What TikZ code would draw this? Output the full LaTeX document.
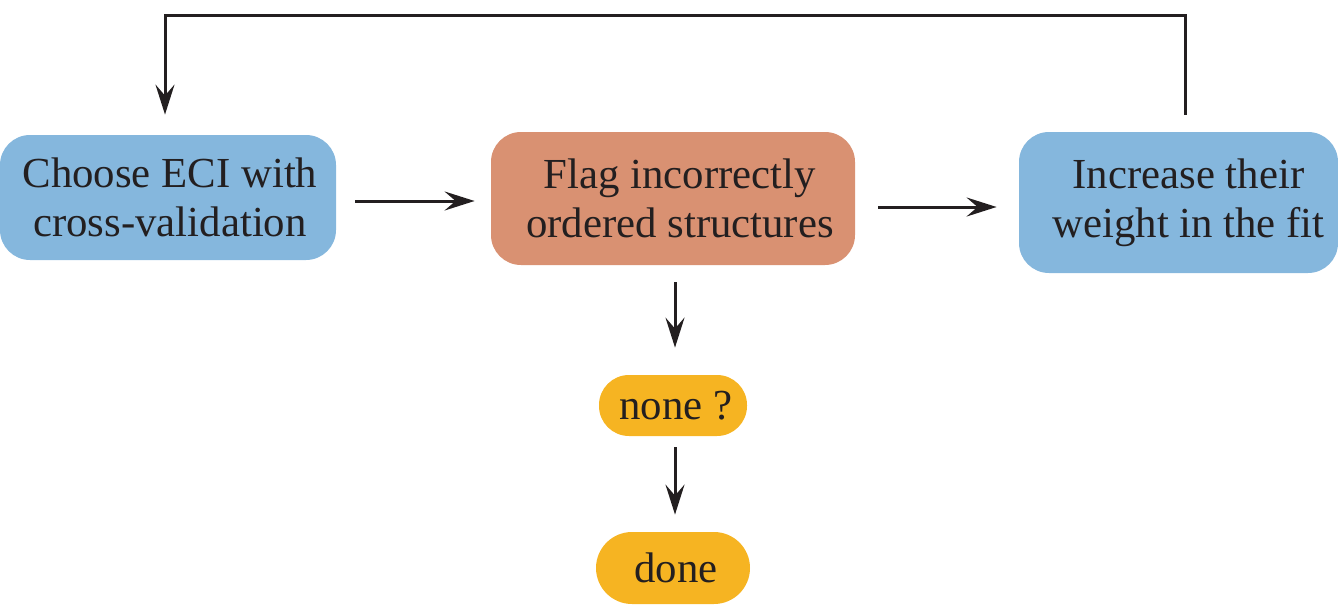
\documentclass[tikz,border=0pt]{standalone}
\usepackage{fontspec}
\setmainfont{Liberation Serif}
\usetikzlibrary{arrows.meta,calc}
\definecolor{boxblue}{RGB}{133,183,221}
\definecolor{boxorange}{RGB}{217,145,114}
\definecolor{boxyellow}{RGB}{246,180,34}
\definecolor{ink}{RGB}{35,31,32}
\tikzset{
  stepbox/.style={rounded corners=15pt, align=center, inner sep=0pt, text=ink,
    font=\fontsize{21.4}{24.5}\selectfont},
  pill/.style={rounded corners=15pt, align=center, inner sep=0pt, text=ink,
    fill=boxyellow, font=\fontsize{21.4}{24.5}\selectfont},
  arr/.style={draw=ink, line width=1.5pt,
    -{Stealth[length=15pt,width=9.5pt,inset=5.5pt]}}
}
\begin{document}
\begin{tikzpicture}[x=0.5pt,y=-0.5pt]
\useasboundingbox (0,0) rectangle (1338,605);
\node[stepbox, fill=boxblue, minimum width=168pt, minimum height=62.5pt] (b1) at (168,197.5)
  {\hspace*{2pt}Choose ECI with\\\hspace*{2pt}cross-validation};
\node[stepbox, fill=boxorange, minimum width=182pt, minimum height=66.5pt] (b2) at (673,198.5)
  {\hspace*{7pt}Flag incorrectly\\\hspace*{7pt}ordered structures};
\node[stepbox, fill=boxblue, minimum width=159.5pt, minimum height=70.5pt] (b3) at (1178.5,202.5)
  {\hspace*{10pt}Increase their\\\hspace*{10pt}weight in the fit};
\node[pill, minimum width=74pt, minimum height=30.5pt] (n) at (673,405.5) {\hspace*{3pt}none ?};
\node[pill, minimum width=77pt, minimum height=36pt, rounded corners=18pt] (d) at (673,568) {\hspace*{3pt}done};
\coordinate (tl) at (165,15);
\draw[arr, shorten <=9.5pt, shorten >=8pt] ([yshift=-1.75pt]b1.east) -- ([yshift=-1.75pt]b1.east -| b2.west);
\draw[arr, shorten <=11.5pt, shorten >=11pt] ([yshift=-4.25pt]b2.east) -- ([yshift=-4.25pt]b2.east -| b3.west);
\draw[arr, shorten <=8.5pt, shorten >=13.5pt] ([xshift=1pt]b2.south) -- ([xshift=1pt]n.north);
\draw[arr, shorten <=5.5pt, shorten >=8.5pt] ([xshift=1pt]n.south) -- ([xshift=1pt]d.north);
\draw[arr, shorten <=8.5pt, shorten >=10pt] ([xshift=3.25pt]b3.north) |- (tl) -- ([xshift=-1.5pt]b1.north);
\end{tikzpicture}
\end{document}
